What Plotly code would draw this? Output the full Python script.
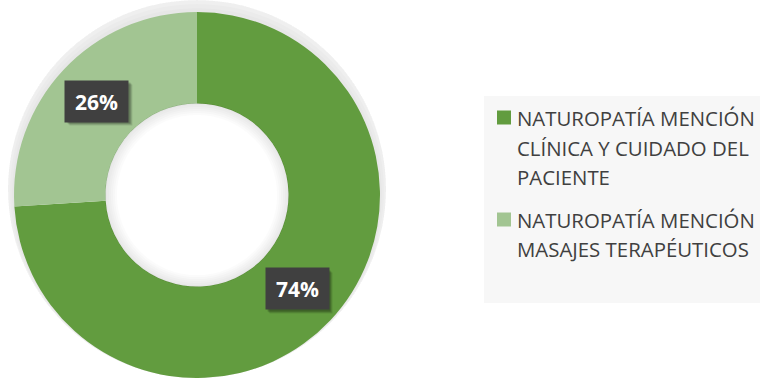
import math
import plotly.graph_objects as go

# ---- data -------------------------------------------------------------
categories = [
    "NATUROPATÍA MENCIÓN CLÍNICA Y CUIDADO DEL PACIENTE",
    "NATUROPATÍA MENCIÓN MASAJES TERAPÉUTICOS",
]
legend_lines = [
    ["NATUROPATÍA MENCIÓN", "CLÍNICA Y CUIDADO DEL", "PACIENTE"],
    ["NATUROPATÍA MENCIÓN", "MASAJES TERAPÉUTICOS"],
]
shares = [74, 26]
colors = ["#629C3F", "#A2C592"]

# ---- geometry (pixels, origin top-left) -------------------------------
W, H = 760, 378
CX, CY = 197, 195
R = 183
HOLE = 0.5
FONT = "Open Sans"


def domain(cx, cy, r):
    return dict(x=[max(0, (cx - r) / W), min(1, (cx + r) / W)],
                y=[max(0, (H - cy - r) / H), min(1, (H - cy + r) / H)])


def px(x, y):
    return x / W, 1 - y / H


fig = go.Figure()

# soft outer glow behind the ring
for grow in [12, 10, 8, 6, 4, 2]:
    rk = R + grow
    cyk = min(CY, H - rk)
    fig.add_trace(go.Pie(
        values=[1], marker=dict(colors=["rgba(0,0,0,0.017)"], line=dict(width=0)),
        hole=(R - 20) / rk, domain=domain(CX, cyk, rk), sort=False,
        textinfo="none", hoverinfo="skip", showlegend=False))

# the donut itself
fig.add_trace(go.Pie(
    labels=categories, values=shares,
    marker=dict(colors=colors, line=dict(width=0)),
    hole=HOLE, sort=False, direction="clockwise", rotation=0,
    domain=domain(CX, CY, R),
    textinfo="none", hoverinfo="label+percent", showlegend=False))

# inner shadow along the edge of the hole
RH = R * HOLE + 0.5
for depth in [12, 10, 8, 6, 4, 2]:
    fig.add_trace(go.Pie(
        values=[1], marker=dict(colors=["rgba(0,0,0,0.014)"], line=dict(width=0)),
        hole=(RH - depth) / RH, domain=domain(CX, CY, RH), sort=False,
        textinfo="none", hoverinfo="skip", showlegend=False))

annotations = []
shapes = []

# percentage labels at the middle of each slice, on dark boxes with a drop shadow
BOX_W, BOX_H = 63, 41
total = sum(shares)
r_mid = R * (1 + HOLE) / 2
cum = 0
for v in shares:
    theta = 2 * math.pi * (cum + v / 2) / total
    cum += v
    lx = CX + r_mid * math.sin(theta)
    ly = CY - r_mid * math.cos(theta)
    for off, alpha in ((4, 0.10), (3, 0.14), (2, 0.18)):
        sx0, sy0 = px(lx - BOX_W / 2 + off, ly - BOX_H / 2 + off)
        sx1, sy1 = px(lx + BOX_W / 2 + off, ly + BOX_H / 2 + off)
        shapes.append(dict(type="rect", xref="paper", yref="paper",
                           x0=sx0, x1=sx1, y0=sy1, y1=sy0,
                           fillcolor=f"rgba(0,0,0,{alpha})", line=dict(width=0)))
    x, y = px(lx, ly)
    annotations.append(dict(
        x=x, y=y, xref="paper", yref="paper", showarrow=False,
        xanchor="center", yanchor="middle",
        text=f"<b>{v}%</b>", width=BOX_W - 4, height=BOX_H - 4, borderpad=2,
        bgcolor="#404040",
        font=dict(family=FONT, size=21, color="#FFFFFF")))

# legend panel
x0, y0 = px(484, 96)
x1, y1 = px(W + 5, 303)
shapes.append(dict(type="rect", xref="paper", yref="paper",
                   x0=x0, x1=x1, y0=y1, y1=y0,
                   fillcolor="#F7F7F7", line=dict(width=0), layer="below"))

first_line = [117.5, 219.5]
line_gap = 30
for lines, col, ytop in zip(legend_lines, colors, first_line):
    sx0, sy0 = px(497, ytop - 7)
    sx1, sy1 = px(511, ytop + 7)
    shapes.append(dict(type="rect", xref="paper", yref="paper",
                       x0=sx0, x1=sx1, y0=sy1, y1=sy0,
                       fillcolor=col, line=dict(width=0)))
    for j, txt in enumerate(lines):
        tx, ty = px(515, ytop + j * line_gap)
        annotations.append(dict(
            x=tx, y=ty, xref="paper", yref="paper", showarrow=False,
            xanchor="left", yanchor="middle", text=txt,
            font=dict(family=FONT, size=20.4, color="#404040")))

fig.update_layout(
    width=W, height=H, margin=dict(l=0, r=0, t=0, b=0),
    paper_bgcolor="#FFFFFF", plot_bgcolor="#FFFFFF",
    showlegend=False, annotations=annotations, shapes=shapes,
    font=dict(family=FONT),
)

fig.write_html("out.html")
